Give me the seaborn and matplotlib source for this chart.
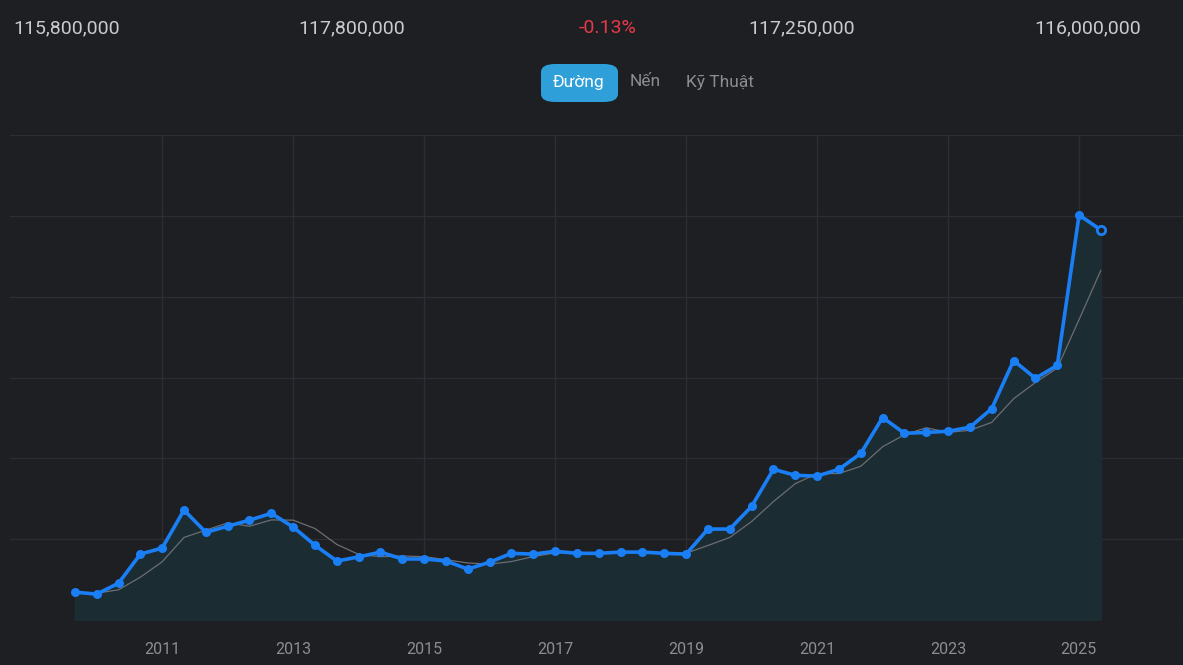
import matplotlib.pyplot as plt
import numpy as np
import pandas as pd
import seaborn as sns
from matplotlib.patches import FancyBboxPatch

# giá (triệu đồng), mỗi điểm cách nhau 4 tháng, bắt đầu từ 09/2009
start_year = 2009.67
prices = [26.9, 26.4, 29.1, 36.3, 37.8, 47.2, 41.7, 43.2, 44.7, 46.4,
          43.0, 38.5, 34.6, 35.6, 36.8, 35.1, 35.1, 34.6, 32.6, 34.3,
          36.5, 36.3, 37.0, 36.5, 36.5, 36.8, 36.8, 36.5, 36.3, 42.5,
          42.5, 48.1, 57.3, 55.8, 55.6, 57.3, 61.2, 70.1, 66.2, 66.4,
          66.7, 67.7, 72.3, 84.2, 79.8, 83.0, 120.2, 116.5]
top_values = ["115,800,000", "117,800,000", "-0.13%", "117,250,000", "116,000,000"]
tabs = ["Đường", "Nến", "Kỹ Thuật"]
year_ticks = [2011, 2013, 2015, 2017, 2019, 2021, 2023, 2025]

df = pd.DataFrame({"year": start_year + np.arange(len(prices)) / 3, "price": prices})
df["avg"] = df["price"].rolling(3, min_periods=1).mean()

bg = "#1e1f23"
sns.set_style("dark")
plt.rcParams["font.family"] = ["Roboto", "DejaVu Sans"]
fig = plt.figure(figsize=(11.83, 6.65), dpi=100, facecolor=bg)
ax = fig.add_axes([10 / 1183, 1 - 620 / 665, 1173 / 1183, 485 / 665], facecolor=bg)

ax.fill_between(df["year"], 20, df["price"], color="#1c2c33", zorder=1)
sns.lineplot(data=df, x="year", y="avg", ax=ax, color="#6b6e72", lw=0.9, zorder=2)
sns.lineplot(data=df, x="year", y="price", ax=ax, color="#1a7ef5", lw=2.6,
             marker="o", markersize=6.5, markeredgewidth=0, zorder=3)
ax.plot(df["year"].iloc[-1], prices[-1], "o", ms=6, mfc=bg, mec="#1a7ef5", mew=2, zorder=4)

ax.set_xlim(2008.68, 2026.59)
ax.set_ylim(20, 140)
ax.set_yticks(np.arange(20, 141, 20))
ax.set_xticks(year_ticks)
ax.set_xticklabels([str(y) for y in year_ticks], color="#8a8d92", fontsize=11.5)
ax.set_yticklabels([])
ax.tick_params(length=0, pad=16)
ax.grid(True, color="#2c2e33", lw=1)
for s in ax.spines.values():
    s.set_visible(False)
ax.set_xlabel("")
ax.set_ylabel("")

for txt, x, ha in zip(top_values, [13, 352, 608, 802, 1141], ["left", "center", "center", "center", "right"]):
    fig.text(x / 1183, 1 - 28 / 665, txt, ha=ha, va="center", fontsize=14,
             color="#e8394a" if txt.startswith("-") else "#c9cbcf")

fig.patches.append(FancyBboxPatch((541 / 1183, 1 - 102 / 665), 77 / 1183, 38 / 665,
                                  boxstyle="round,pad=0,rounding_size=0.012",
                                  transform=fig.transFigure, fc="#2e9fd8", ec="none"))
for txt, x in zip(tabs, [579, 645, 720]):
    fig.text(x / 1183, 1 - 82 / 665, txt, ha="center", va="center", fontsize=12.5,
             color="white" if txt == tabs[0] else "#8a8d92")

fig.savefig("out.png", dpi=100, facecolor=bg)
